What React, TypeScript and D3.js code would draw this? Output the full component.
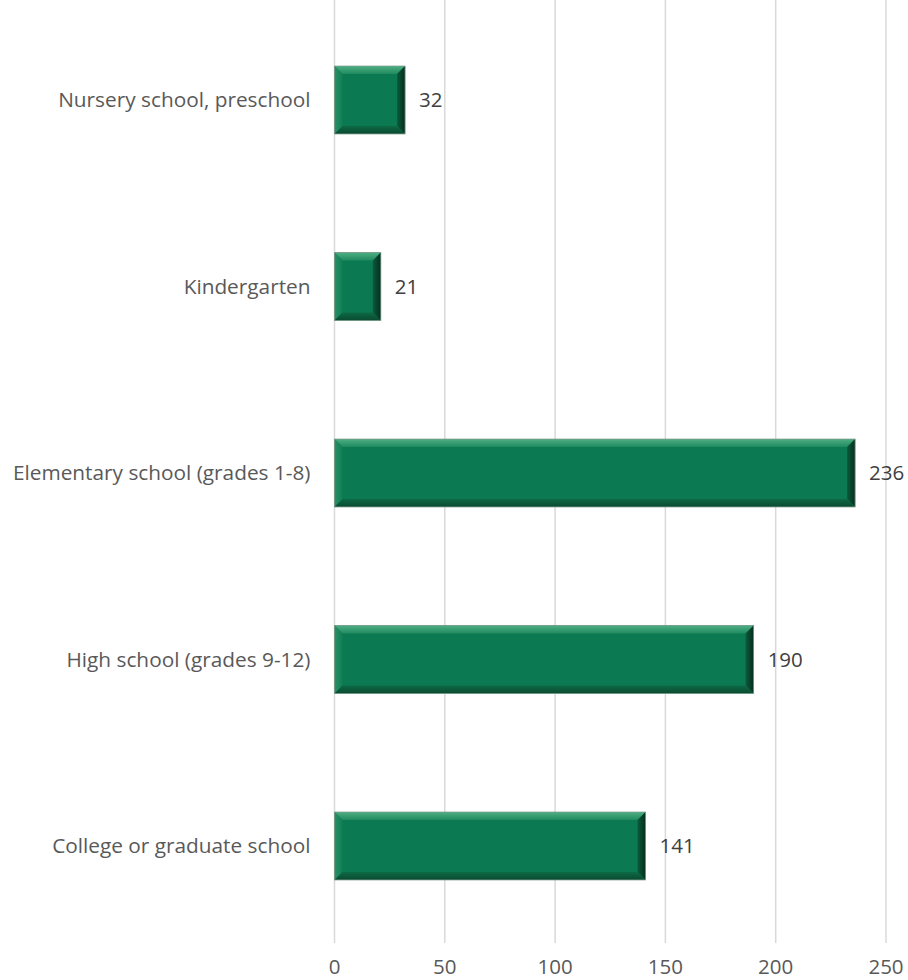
import React from "react";
import * as d3 from "d3";

const categories = [
  "Nursery school, preschool",
  "Kindergarten",
  "Elementary school (grades 1-8)",
  "High school (grades 9-12)",
  "College or graduate school",
];
const values = [32, 21, 236, 190, 141];
const ticks = [0, 50, 100, 150, 200, 250];

const W = 908;
const H = 980;
const FONT = "'Open Sans', sans-serif";

export default function App() {
  const x = d3.scaleLinear().domain([0, 250]).range([334.5, 886]);
  const y = d3
    .scaleBand<string>()
    .domain(categories)
    .range([6.75, 939.25])
    .paddingInner(0.636)
    .paddingOuter(0.318);
  const bh = y.bandwidth();
  const b = 8;

  return (
    <svg
      width={W}
      height={H}
      style={{ position: "absolute", left: 0, top: 0, background: "#fff" }}
      fontFamily={FONT}
    >
      <defs>
        <linearGradient id="topB" x1="0" y1="0" x2="0" y2="1">
          <stop offset="0" stopColor="#4fae84" />
          <stop offset="1" stopColor="#1f8a5e" />
        </linearGradient>
        <linearGradient id="botB" x1="0" y1="0" x2="0" y2="1">
          <stop offset="0" stopColor="#0d6a45" />
          <stop offset="1" stopColor="#0a4a31" />
        </linearGradient>
        <linearGradient id="rightB" x1="0" y1="0" x2="1" y2="0">
          <stop offset="0" stopColor="#0b5a3b" />
          <stop offset="1" stopColor="#062e1f" />
        </linearGradient>
        <linearGradient id="leftB" x1="0" y1="0" x2="1" y2="0">
          <stop offset="0" stopColor="#2a9066" />
          <stop offset="1" stopColor="#117e55" />
        </linearGradient>
      </defs>
      {ticks.map((t) => (
        <g key={t}>
          <line
            x1={x(t)}
            x2={x(t)}
            y1={0}
            y2={943}
            stroke="#d9d9d9"
            strokeWidth={1.5}
          />
          <text
            x={x(t)}
            y={974}
            textAnchor="middle"
            fontSize={20.5}
            fill="#595959"
          >
            {t}
          </text>
        </g>
      ))}
      {categories.map((c, i) => {
        const x0 = x(0);
        const x1 = x(values[i]);
        const y0 = y(c)!;
        const y1 = y0 + bh;
        const w = x1 - x0;
        const bb = Math.min(b, w / 2);
        return (
          <g key={c}>
            <rect x={x0} y={y0} width={w} height={bh} fill="#0b7a52" />
            <polygon
              points={`${x0},${y0} ${x1},${y0} ${x1 - bb},${y0 + bb} ${x0 + bb},${y0 + bb}`}
              fill="url(#topB)"
            />
            <polygon
              points={`${x0},${y0} ${x0 + bb},${y0 + bb} ${x0 + bb},${y1 - bb} ${x0},${y1}`}
              fill="url(#leftB)"
            />
            <polygon
              points={`${x1},${y0} ${x1},${y1} ${x1 - bb},${y1 - bb} ${x1 - bb},${y0 + bb}`}
              fill="url(#rightB)"
            />
            <polygon
              points={`${x0},${y1} ${x1},${y1} ${x1 - bb},${y1 - bb} ${x0 + bb},${y1 - bb}`}
              fill="url(#botB)"
            />
            <rect
              x={x0}
              y={y0}
              width={w}
              height={bh}
              fill="none"
              stroke="#7a9a8a"
              strokeWidth={0.8}
            />
            <text
              x={x0 - 24}
              y={y0 + bh / 2}
              dy="0.35em"
              textAnchor="end"
              fontSize={20.8}
              fill="#595959"
            >
              {c}
            </text>
            <text
              x={x1 + 14}
              y={y0 + bh / 2}
              dy="0.35em"
              textAnchor="start"
              fontSize={20.5}
              fill="#404040"
            >
              {values[i]}
            </text>
          </g>
        );
      })}
    </svg>
  );
}
